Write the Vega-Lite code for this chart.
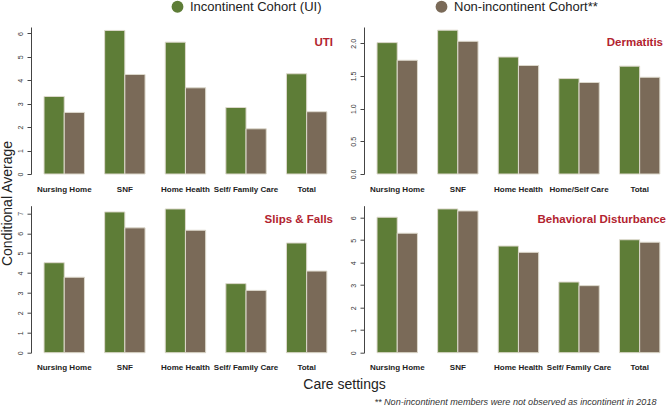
{
  "$schema": "https://vega.github.io/schema/vega-lite/v6.json",
  "background": "white",
  "padding": {"left": 0, "top": 0, "right": 0, "bottom": 0},
  "config": {
    "font": "Liberation Sans",
    "view": {"stroke": null},
    "axisY": {"labelAngle": -90, "labelAlign": "center", "labelBaseline": "bottom", "labelFontSize": 7, "labelColor": "#333333", "tickColor": "#444444", "domainColor": "#444444", "tickSize": 4, "labelPadding": 4, "grid": false, "title": null, "titleFontSize": 14, "titleFontWeight": "normal", "titleColor": "#222222"},
    "axisX": {"labelAngle": 0, "labelFontSize": 8, "labelFontWeight": "bold", "labelColor": "#222222", "domain": false, "ticks": false, "labelPadding": 11, "title": null, "grid": false, "titleFontSize": 14, "titleFontWeight": "normal", "titleColor": "#222222"},
    "title": {"color": "#b2232f", "fontSize": 11.5, "fontWeight": "bold", "anchor": "end", "frame": "group"}
  },
  "data": {"values": [
    {"panel": "UTI", "setting": "Nursing Home", "cohort": "Incontinent Cohort (UI)", "value": 3.31},
    {"panel": "UTI", "setting": "Nursing Home", "cohort": "Non-incontinent Cohort**", "value": 2.63},
    {"panel": "UTI", "setting": "SNF", "cohort": "Incontinent Cohort (UI)", "value": 6.13},
    {"panel": "UTI", "setting": "SNF", "cohort": "Non-incontinent Cohort**", "value": 4.25},
    {"panel": "UTI", "setting": "Home Health", "cohort": "Incontinent Cohort (UI)", "value": 5.63},
    {"panel": "UTI", "setting": "Home Health", "cohort": "Non-incontinent Cohort**", "value": 3.68},
    {"panel": "UTI", "setting": "Self/ Family Care", "cohort": "Incontinent Cohort (UI)", "value": 2.84},
    {"panel": "UTI", "setting": "Self/ Family Care", "cohort": "Non-incontinent Cohort**", "value": 1.93},
    {"panel": "UTI", "setting": "Total", "cohort": "Incontinent Cohort (UI)", "value": 4.28},
    {"panel": "UTI", "setting": "Total", "cohort": "Non-incontinent Cohort**", "value": 2.66},
    {"panel": "Dermatitis", "setting": "Nursing Home", "cohort": "Incontinent Cohort (UI)", "value": 2.01},
    {"panel": "Dermatitis", "setting": "Nursing Home", "cohort": "Non-incontinent Cohort**", "value": 1.74},
    {"panel": "Dermatitis", "setting": "SNF", "cohort": "Incontinent Cohort (UI)", "value": 2.2},
    {"panel": "Dermatitis", "setting": "SNF", "cohort": "Non-incontinent Cohort**", "value": 2.03},
    {"panel": "Dermatitis", "setting": "Home Health", "cohort": "Incontinent Cohort (UI)", "value": 1.79},
    {"panel": "Dermatitis", "setting": "Home Health", "cohort": "Non-incontinent Cohort**", "value": 1.66},
    {"panel": "Dermatitis", "setting": "Home/Self Care", "cohort": "Incontinent Cohort (UI)", "value": 1.46},
    {"panel": "Dermatitis", "setting": "Home/Self Care", "cohort": "Non-incontinent Cohort**", "value": 1.4},
    {"panel": "Dermatitis", "setting": "Total", "cohort": "Incontinent Cohort (UI)", "value": 1.65},
    {"panel": "Dermatitis", "setting": "Total", "cohort": "Non-incontinent Cohort**", "value": 1.48},
    {"panel": "Slips", "setting": "Nursing Home", "cohort": "Incontinent Cohort (UI)", "value": 4.52},
    {"panel": "Slips", "setting": "Nursing Home", "cohort": "Non-incontinent Cohort**", "value": 3.79},
    {"panel": "Slips", "setting": "SNF", "cohort": "Incontinent Cohort (UI)", "value": 7.07},
    {"panel": "Slips", "setting": "SNF", "cohort": "Non-incontinent Cohort**", "value": 6.27},
    {"panel": "Slips", "setting": "Home Health", "cohort": "Incontinent Cohort (UI)", "value": 7.22},
    {"panel": "Slips", "setting": "Home Health", "cohort": "Non-incontinent Cohort**", "value": 6.15},
    {"panel": "Slips", "setting": "Self/ Family Care", "cohort": "Incontinent Cohort (UI)", "value": 3.47},
    {"panel": "Slips", "setting": "Self/ Family Care", "cohort": "Non-incontinent Cohort**", "value": 3.13},
    {"panel": "Slips", "setting": "Total", "cohort": "Incontinent Cohort (UI)", "value": 5.51},
    {"panel": "Slips", "setting": "Total", "cohort": "Non-incontinent Cohort**", "value": 4.1},
    {"panel": "Behavioral", "setting": "Nursing Home", "cohort": "Incontinent Cohort (UI)", "value": 6.02},
    {"panel": "Behavioral", "setting": "Nursing Home", "cohort": "Non-incontinent Cohort**", "value": 5.31},
    {"panel": "Behavioral", "setting": "SNF", "cohort": "Incontinent Cohort (UI)", "value": 6.39},
    {"panel": "Behavioral", "setting": "SNF", "cohort": "Non-incontinent Cohort**", "value": 6.3},
    {"panel": "Behavioral", "setting": "Home Health", "cohort": "Incontinent Cohort (UI)", "value": 4.74},
    {"panel": "Behavioral", "setting": "Home Health", "cohort": "Non-incontinent Cohort**", "value": 4.46},
    {"panel": "Behavioral", "setting": "Self/ Family Care", "cohort": "Incontinent Cohort (UI)", "value": 3.14},
    {"panel": "Behavioral", "setting": "Self/ Family Care", "cohort": "Non-incontinent Cohort**", "value": 2.98},
    {"panel": "Behavioral", "setting": "Total", "cohort": "Incontinent Cohort (UI)", "value": 5.02},
    {"panel": "Behavioral", "setting": "Total", "cohort": "Non-incontinent Cohort**", "value": 4.91}
  ]},
  "bounds": "flush",
  "columns": 2,
  "spacing": {"row": 31.7, "column": 31},
  "concat": [
    {
      "width": 302, "height": 147,
      "title": {"text": "UTI", "offset": -21},
      "transform": [{"filter": "datum.panel === 'UTI'"}],
      "mark": {"type": "bar", "stroke": "#ddd9cc", "strokeWidth": 1},
      "encoding": {
        "x": {"field": "setting", "type": "nominal", "sort": null, "scale": {"paddingInner": 0.333, "paddingOuter": 0.158, "align": 0.68}},
        "xOffset": {"field": "cohort", "type": "nominal", "sort": null},
        "y": {"field": "value", "type": "quantitative", "scale": {"domain": [0, 6.277], "nice": false},
          "axis": {"values": [0, 1, 2, 3, 4, 5, 6], "title": "Conditional Average", "titleX": -24, "titleY": 176, "titleAngle": -90, "titleAlign": "center", "titleBaseline": "middle", "titleAnchor": null}},
        "color": {"field": "cohort", "type": "nominal", "sort": null, "scale": {"domain": ["Incontinent Cohort (UI)", "Non-incontinent Cohort**"], "range": ["#5e7d37", "#7a6a58"]},
          "legend": {"title": null, "orient": "none", "direction": "horizontal", "legendX": 140, "legendY": -27, "symbolType": "circle", "symbolSize": 140, "symbolStrokeWidth": 0, "labelFontSize": 13, "labelColor": "#222222", "labelOffset": 6, "columnPadding": 113, "labelLimit": 300}}
      }
    },
    {
      "width": 302, "height": 147,
      "title": {"text": "Dermatitis", "offset": -21, "dx": -3},
      "transform": [{"filter": "datum.panel === 'Dermatitis'"}],
      "mark": {"type": "bar", "stroke": "#ddd9cc", "strokeWidth": 1},
      "encoding": {
        "x": {"field": "setting", "type": "nominal", "sort": null, "scale": {"paddingInner": 0.333, "paddingOuter": 0.158, "align": 0.68}},
        "xOffset": {"field": "cohort", "type": "nominal", "sort": null},
        "y": {"field": "value", "type": "quantitative", "scale": {"domain": [0, 2.249], "nice": false}, "axis": {"values": [0, 0.5, 1, 1.5, 2], "format": ".1f"}},
        "color": {"field": "cohort", "type": "nominal", "sort": null}
      }
    },
    {
      "width": 302, "height": 147,
      "title": {"text": "Slips & Falls", "offset": -20},
      "transform": [{"filter": "datum.panel === 'Slips'"}],
      "mark": {"type": "bar", "stroke": "#ddd9cc", "strokeWidth": 1},
      "encoding": {
        "x": {"field": "setting", "type": "nominal", "sort": null, "scale": {"paddingInner": 0.333, "paddingOuter": 0.158, "align": 0.68},
          "axis": {"title": "Care settings", "titleX": 313, "titleY": 32, "titleAlign": "center", "titleBaseline": "middle", "titleAnchor": null}},
        "xOffset": {"field": "cohort", "type": "nominal", "sort": null},
        "y": {"field": "value", "type": "quantitative", "scale": {"domain": [0, 7.383], "nice": false},
          "axis": {"values": [0, 1, 2, 3, 4, 5, 6, 7]}},
        "color": {"field": "cohort", "type": "nominal", "sort": null}
      }
    },
    {
      "width": 302, "height": 147,
      "title": {"text": "Behavioral Disturbance", "offset": -20},
      "transform": [{"filter": "datum.panel === 'Behavioral'"}],
      "mark": {"type": "bar", "stroke": "#ddd9cc", "strokeWidth": 1},
      "encoding": {
        "x": {"field": "setting", "type": "nominal", "sort": null, "scale": {"paddingInner": 0.333, "paddingOuter": 0.158, "align": 0.68},
          "axis": {"title": "** Non-incontinent members were not observed as incontinent in 2018", "titleX": 292, "titleY": 49, "titleAlign": "right", "titleBaseline": "middle", "titleAnchor": null, "titleFontSize": 9.1, "titleFontStyle": "italic", "titleColor": "#333333"}},
        "xOffset": {"field": "cohort", "type": "nominal", "sort": null},
        "y": {"field": "value", "type": "quantitative", "scale": {"domain": [0, 6.533], "nice": false}, "axis": {"values": [0, 1, 2, 3, 4, 5, 6]}},
        "color": {"field": "cohort", "type": "nominal", "sort": null}
      }
    }
  ]
}
